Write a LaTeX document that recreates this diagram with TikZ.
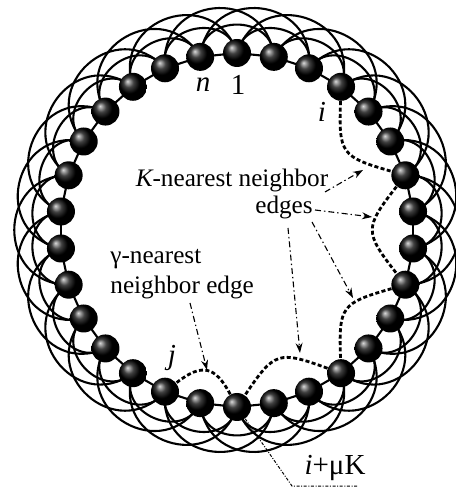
\documentclass[tikz,border=0pt]{standalone}
\usepackage{fontspec}
\setmainfont{Liberation Serif}
\usetikzlibrary{backgrounds,arrows.meta}
\begin{document}
\begin{tikzpicture}[x=0.5pt,y=0.5pt,
  ball/.style={circle,inner sep=0pt,minimum size=14pt,shading=ball,ball color=black},
  chainedge/.style={line width=1.05pt},
  arcedge/.style={line width=1.05pt},
  kedge/.style={line width=1.4pt,dash pattern=on 2pt off 1.2pt},
  pointer/.style={line width=0.55pt,dash pattern=on 3pt off 1.5pt on 0.7pt off 1.5pt,-{Stealth[length=5pt,width=3.5pt]}},
  leader/.style={line width=0.5pt,dash pattern=on 1.5pt off 0.8pt on 0.5pt off 0.8pt},
  lab/.style={inner sep=0pt,font=\fontsize{12.6}{15}\selectfont},
  idx/.style={inner sep=0pt,font=\fontsize{14.5}{17}\selectfont}]
\useasboundingbox (-237,-260) rectangle (218,230);
% spheres
\foreach \k in {1,...,30} {
  \pgfmathsetmacro\a{90-12*(\k-1)}
  \node[ball] (p\k) at (\a:177) {};
}
% chain and K-nearest arcs
\begin{pgfonlayer}{background}
\foreach \k in {1,...,30} {
  \pgfmathtruncatemacro\nA{mod(\k,30)+1}
  \pgfmathtruncatemacro\nB{mod(\k+1,30)+1}
  \pgfmathtruncatemacro\nC{mod(\k+2,30)+1}
  \pgfmathsetmacro\bB{90-12*(\k-1)-12}
  \pgfmathsetmacro\bC{90-12*(\k-1)-18}
  \draw[chainedge] (p\k.center) -- (p\nA.center);
  \draw[arcedge] (p\k.center) to[out=\bB,in=\bB,looseness=1.5] (p\nB.center);
  \draw[arcedge] (p\k.center) to[out=\bC,in=\bC,looseness=1.7] (p\nC.center);
}
\end{pgfonlayer}
% dashed inner edges
\draw[kedge] (p4) to[bend right=38,looseness=1.55] (p7);
\draw[kedge] (p7) to[bend right=38,looseness=1.55] (p10);
\draw[kedge] (p10) to[bend right=38,looseness=1.55] (p13);
\draw[kedge] (p13) to[bend right=38,looseness=1.55] (p16);
\draw[kedge] (p16) to[bend right=50,looseness=1.5] (p18);
% labels
\node[idx] (ln) at (-34,145) {\itshape n};
\node[idx] (l1) at (1,145) {1};
\node[idx] (li) at (85,118) {\itshape i};
\node[idx] (lj) at (-65,-128) {\itshape j};
\node[lab] (lK) at (-5,50) {\itshape K\upshape-nearest neighbor};
\node[lab] (ledges) at (47,23) {edges};
\node[lab,align=left,anchor=west] (lg) at (-127,-44) {γ-nearest\\neighbor edge};
\node[idx] (lmu) at (98,-238) {\itshape i\upshape+μK};
% pointers
\coordinate (s1) at (88,38);   \coordinate (e1) at (126,60);
\coordinate (s2) at (78,20);   \coordinate (e2) at (135,13);
\coordinate (s3) at (75,8);    \coordinate (e3) at (116,-68);
\coordinate (s4) at (51,2);    \coordinate (e4) at (63,-123);
\coordinate (s5) at (-47,-73); \coordinate (e5) at (-30,-140);
\draw[pointer] (s1) -- (e1);
\draw[pointer] (s2) -- (e2);
\draw[pointer] (s3) -- (e3);
\draw[pointer] (s4) -- (e4);
\draw[pointer] (s5) -- (e5);
% leader to i+muK
\coordinate (lb) at (55,-256);
\coordinate (le) at (120,-256);
\draw[leader] (p16) -- (lb) -- (le);
\end{tikzpicture}
\end{document}
